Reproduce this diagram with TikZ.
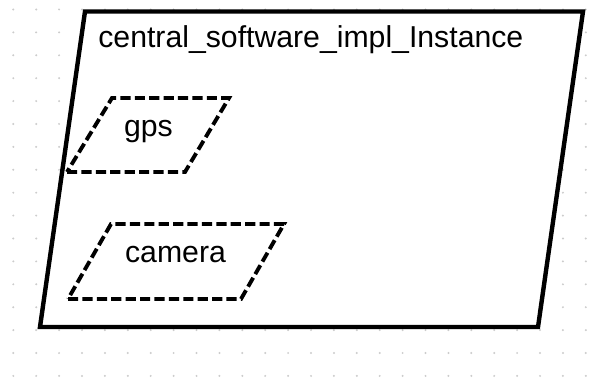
\documentclass[tikz,border=0pt]{standalone}
\usepackage{fontspec}
\setmainfont{Liberation Sans}
\begin{document}
\begin{tikzpicture}[x={(0.02cm,0)}, y={(0,-0.02cm)},
  gridpt/.style={fill=black!20, draw=none},
  outerbox/.style={draw=black, fill=white, line width=2.5pt, line join=miter},
  partbox/.style={draw=black, fill=white, line width=2.2pt, line join=miter,
                  dash pattern=on 5.8pt off 2.4pt},
  lbl/.style={inner sep=0pt, anchor=base, font=\fontsize{17.2pt}{20pt}\selectfont}]
\useasboundingbox (0,0) rectangle (605,378);
\fill[white] (0,0) rectangle (605,378);
% dotted background grid
\foreach \i in {0,...,25} {
  \foreach \j in {0,...,16} {
    \fill[gridpt] (13.3+22.9*\i, 9.5+22.9*\j) circle (1.1);
  }
}
% component instance frame
\draw[outerbox] (40,327) -- (538,327) -- (583,11.5) -- (85,11.5) -- cycle;
\node[lbl, anchor=base west] (title) at (98,48) {central\_software\_impl\_Instance};
% parts
\draw[partbox] (67,172) -- (185,172) -- (229,98) -- (112,98) -- cycle;
\node[lbl] (gps) at (148.5,137) {gps};
\draw[partbox] (68,299) -- (241,299) -- (284,224) -- (111,224) -- cycle;
\node[lbl] (camera) at (175.5,262.7) {camera};
\end{tikzpicture}
\end{document}
